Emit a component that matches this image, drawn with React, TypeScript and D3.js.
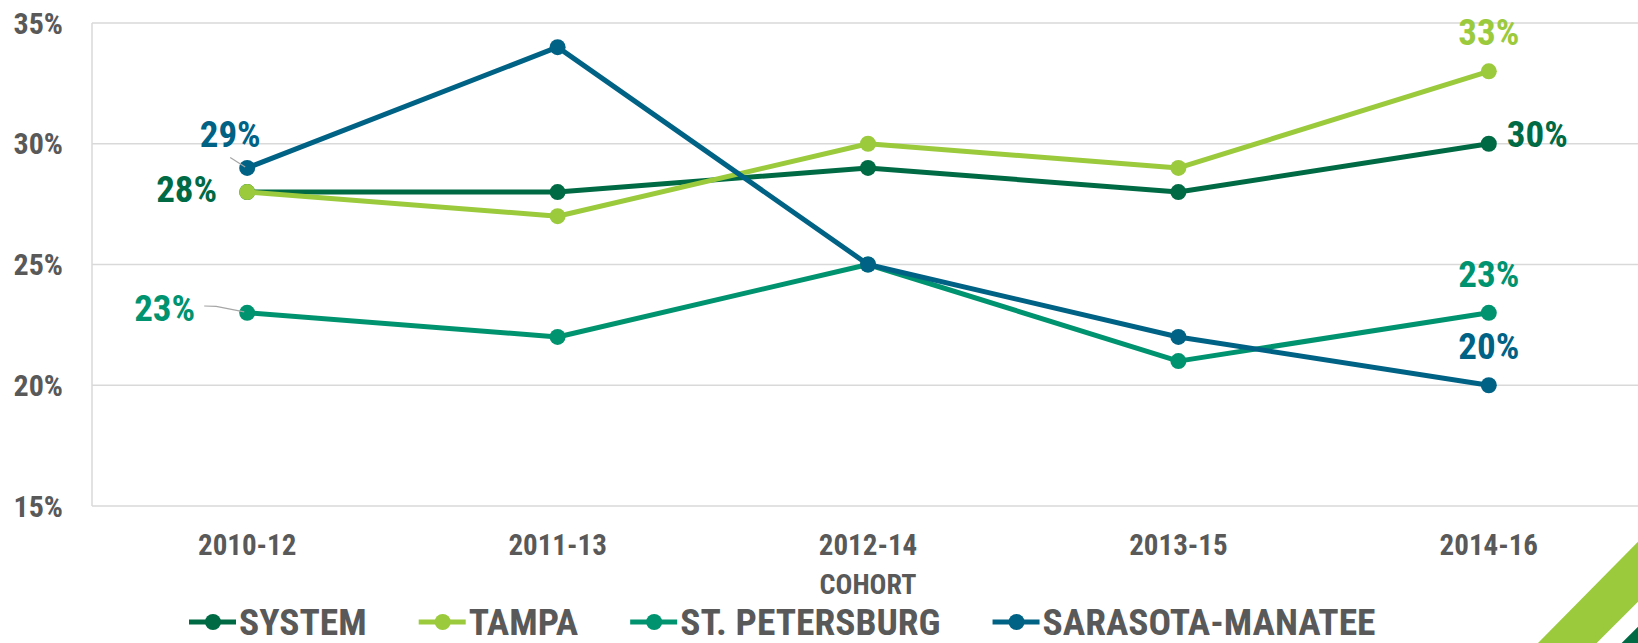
import React, { useEffect, useRef } from 'react';
import * as d3 from 'd3';

const categories = ['2010-12', '2011-13', '2012-14', '2013-15', '2014-16'];
const seriesNames = ['SYSTEM', 'TAMPA', 'ST. PETERSBURG', 'SARASOTA-MANATEE'];
const systemValues = [28, 28, 29, 28, 30];
const tampaValues = [28, 27, 30, 29, 33];
const stPeteValues = [23, 22, 25, 21, 23];
const sarasotaValues = [29, 34, 25, 22, 20];
const yTicks = [15, 20, 25, 30, 35];
const seriesColors = ['#006a45', '#9bca3c', '#00936f', '#006285'];
const axisTitle = 'COHORT';

// which points carry a value label: [seriesIndex, categoryIndex, placement]
const labelSpecs: [number, number, string][] = [
  [3, 0, 'aboveLeft'],
  [0, 0, 'left'],
  [2, 0, 'leftLeader'],
  [1, 4, 'above'],
  [0, 4, 'right'],
  [2, 4, 'above'],
  [3, 4, 'above'],
];

const FONT = "'Liberation Sans Narrow','Arial Narrow','Roboto Condensed','DejaVu Sans Condensed',sans-serif";
const GRAY = '#595959';

export default function App() {
  const ref = useRef<SVGSVGElement>(null);

  useEffect(() => {
    document.body.style.margin = '0';
    document.body.style.overflow = 'hidden';
    const svg = d3.select(ref.current);
    svg.selectAll('*').remove();

    const seriesValues = [systemValues, tampaValues, stPeteValues, sarasotaValues];
    const left = 92, right = 1644, top = 23, bottom = 506;
    const x = d3.scalePoint<string>().domain(categories).range([left, right]).padding(0.5);
    const y = d3.scaleLinear().domain([15, 35]).range([bottom, top]);

    // gridlines
    svg.append('g').selectAll('line').data(yTicks).join('line')
      .attr('x1', left).attr('x2', right)
      .attr('y1', d => y(d)).attr('y2', d => y(d))
      .attr('stroke', '#d9d9d9').attr('stroke-width', 1.5);
    svg.append('line')
      .attr('x1', left).attr('x2', left).attr('y1', y(35)).attr('y2', y(15))
      .attr('stroke', '#d9d9d9').attr('stroke-width', 1.5);

    // y labels
    svg.append('g').selectAll('text').data(yTicks).join('text')
      .attr('x', 63).attr('y', d => y(d) + 10.5)
      .attr('text-anchor', 'end')
      .attr('font-family', FONT).attr('font-weight', 'bold').attr('font-size', 30)
      .attr('fill', GRAY)
      .text(d => `${d}%`);

    // x labels
    svg.append('g').selectAll('text').data(categories).join('text')
      .attr('x', d => x(d)!).attr('y', 554.5)
      .attr('text-anchor', 'middle')
      .attr('font-family', FONT).attr('font-weight', 'bold').attr('font-size', 29)
      .attr('fill', GRAY)
      .text(d => d);

    svg.append('text')
      .attr('x', (left + right) / 2).attr('y', 594)
      .attr('text-anchor', 'middle')
      .attr('font-family', FONT).attr('font-weight', 'bold').attr('font-size', 28)
      .attr('fill', GRAY)
      .text(axisTitle);

    // lines
    const line = d3.line<number>()
      .x((_, i) => x(categories[i])!)
      .y(d => y(d));

    seriesValues.forEach((vals, si) => {
      const g = svg.append('g');
      g.append('path')
        .attr('d', line(vals)!)
        .attr('fill', 'none')
        .attr('stroke', seriesColors[si])
        .attr('stroke-width', 5)
        .attr('stroke-linejoin', 'round');
      g.selectAll('circle').data(vals).join('circle')
        .attr('cx', (_, i) => x(categories[i])!)
        .attr('cy', d => y(d))
        .attr('r', 8)
        .attr('fill', seriesColors[si]);
    });

    // data labels
    const lg = svg.append('g');
    labelSpecs.forEach(([si, ci, place]) => {
      const v = seriesValues[si][ci];
      const px = x(categories[ci])!;
      const py = y(v);
      const t = lg.append('text')
        .attr('font-family', FONT).attr('font-weight', 'bold').attr('font-size', 37)
        .attr('fill', seriesColors[si])
        .text(`${v}%`);
      if (place === 'above') {
        t.attr('x', px).attr('y', py - 26).attr('text-anchor', 'middle');
      } else if (place === 'right') {
        t.attr('x', px + 18).attr('y', py + 3.5).attr('text-anchor', 'start');
      } else if (place === 'left') {
        t.attr('x', px - 30).attr('y', py + 9.6).attr('text-anchor', 'end');
      } else if (place === 'aboveLeft') {
        t.attr('x', px - 17).attr('y', py - 21.2).attr('text-anchor', 'middle');
        lg.append('line')
          .attr('x1', px - 17).attr('y1', py - 10.5).attr('x2', px - 2).attr('y2', py - 1)
          .attr('stroke', '#a6a6a6').attr('stroke-width', 1.2);
      } else if (place === 'leftLeader') {
        t.attr('x', px - 52).attr('y', py + 8).attr('text-anchor', 'end');
        lg.append('path')
          .attr('d', `M${px - 43},${py - 6.8}L${px - 31},${py - 6.5}L${px - 3},${py - 1}`)
          .attr('fill', 'none')
          .attr('stroke', '#a6a6a6').attr('stroke-width', 1.2);
      }
    });

    // legend
    const legend = svg.append('g');
    let cx = 189;
    const ly = 622;
    seriesNames.forEach((name, si) => {
      const item = legend.append('g');
      item.append('line')
        .attr('x1', cx).attr('x2', cx + 47).attr('y1', ly).attr('y2', ly)
        .attr('stroke', seriesColors[si]).attr('stroke-width', 5);
      item.append('circle')
        .attr('cx', cx + 24).attr('cy', ly).attr('r', 8)
        .attr('fill', seriesColors[si]);
      const t = item.append('text')
        .attr('x', cx + 50).attr('y', 634.8)
        .attr('font-family', FONT).attr('font-weight', 'bold').attr('font-size', 37.5)
        .attr('fill', GRAY)
        .text(name);
      const w = (t.node() as SVGTextElement).getComputedTextLength();
      cx = cx + 50 + w + 52;
    });

    // corner decoration
    svg.append('polygon')
      .attr('points', '1538,643 1638,541.7 1638,601.7 1596.7,643')
      .attr('fill', '#9bca3c');
    svg.append('polygon')
      .attr('points', '1621.7,643 1638,626.7 1638,643')
      .attr('fill', '#006a45');
  }, []);

  return (
    <svg
      ref={ref}
      width={1638}
      height={643}
      style={{ position: 'absolute', left: 0, top: 0, display: 'block', background: '#fff' }}
    />
  );
}
